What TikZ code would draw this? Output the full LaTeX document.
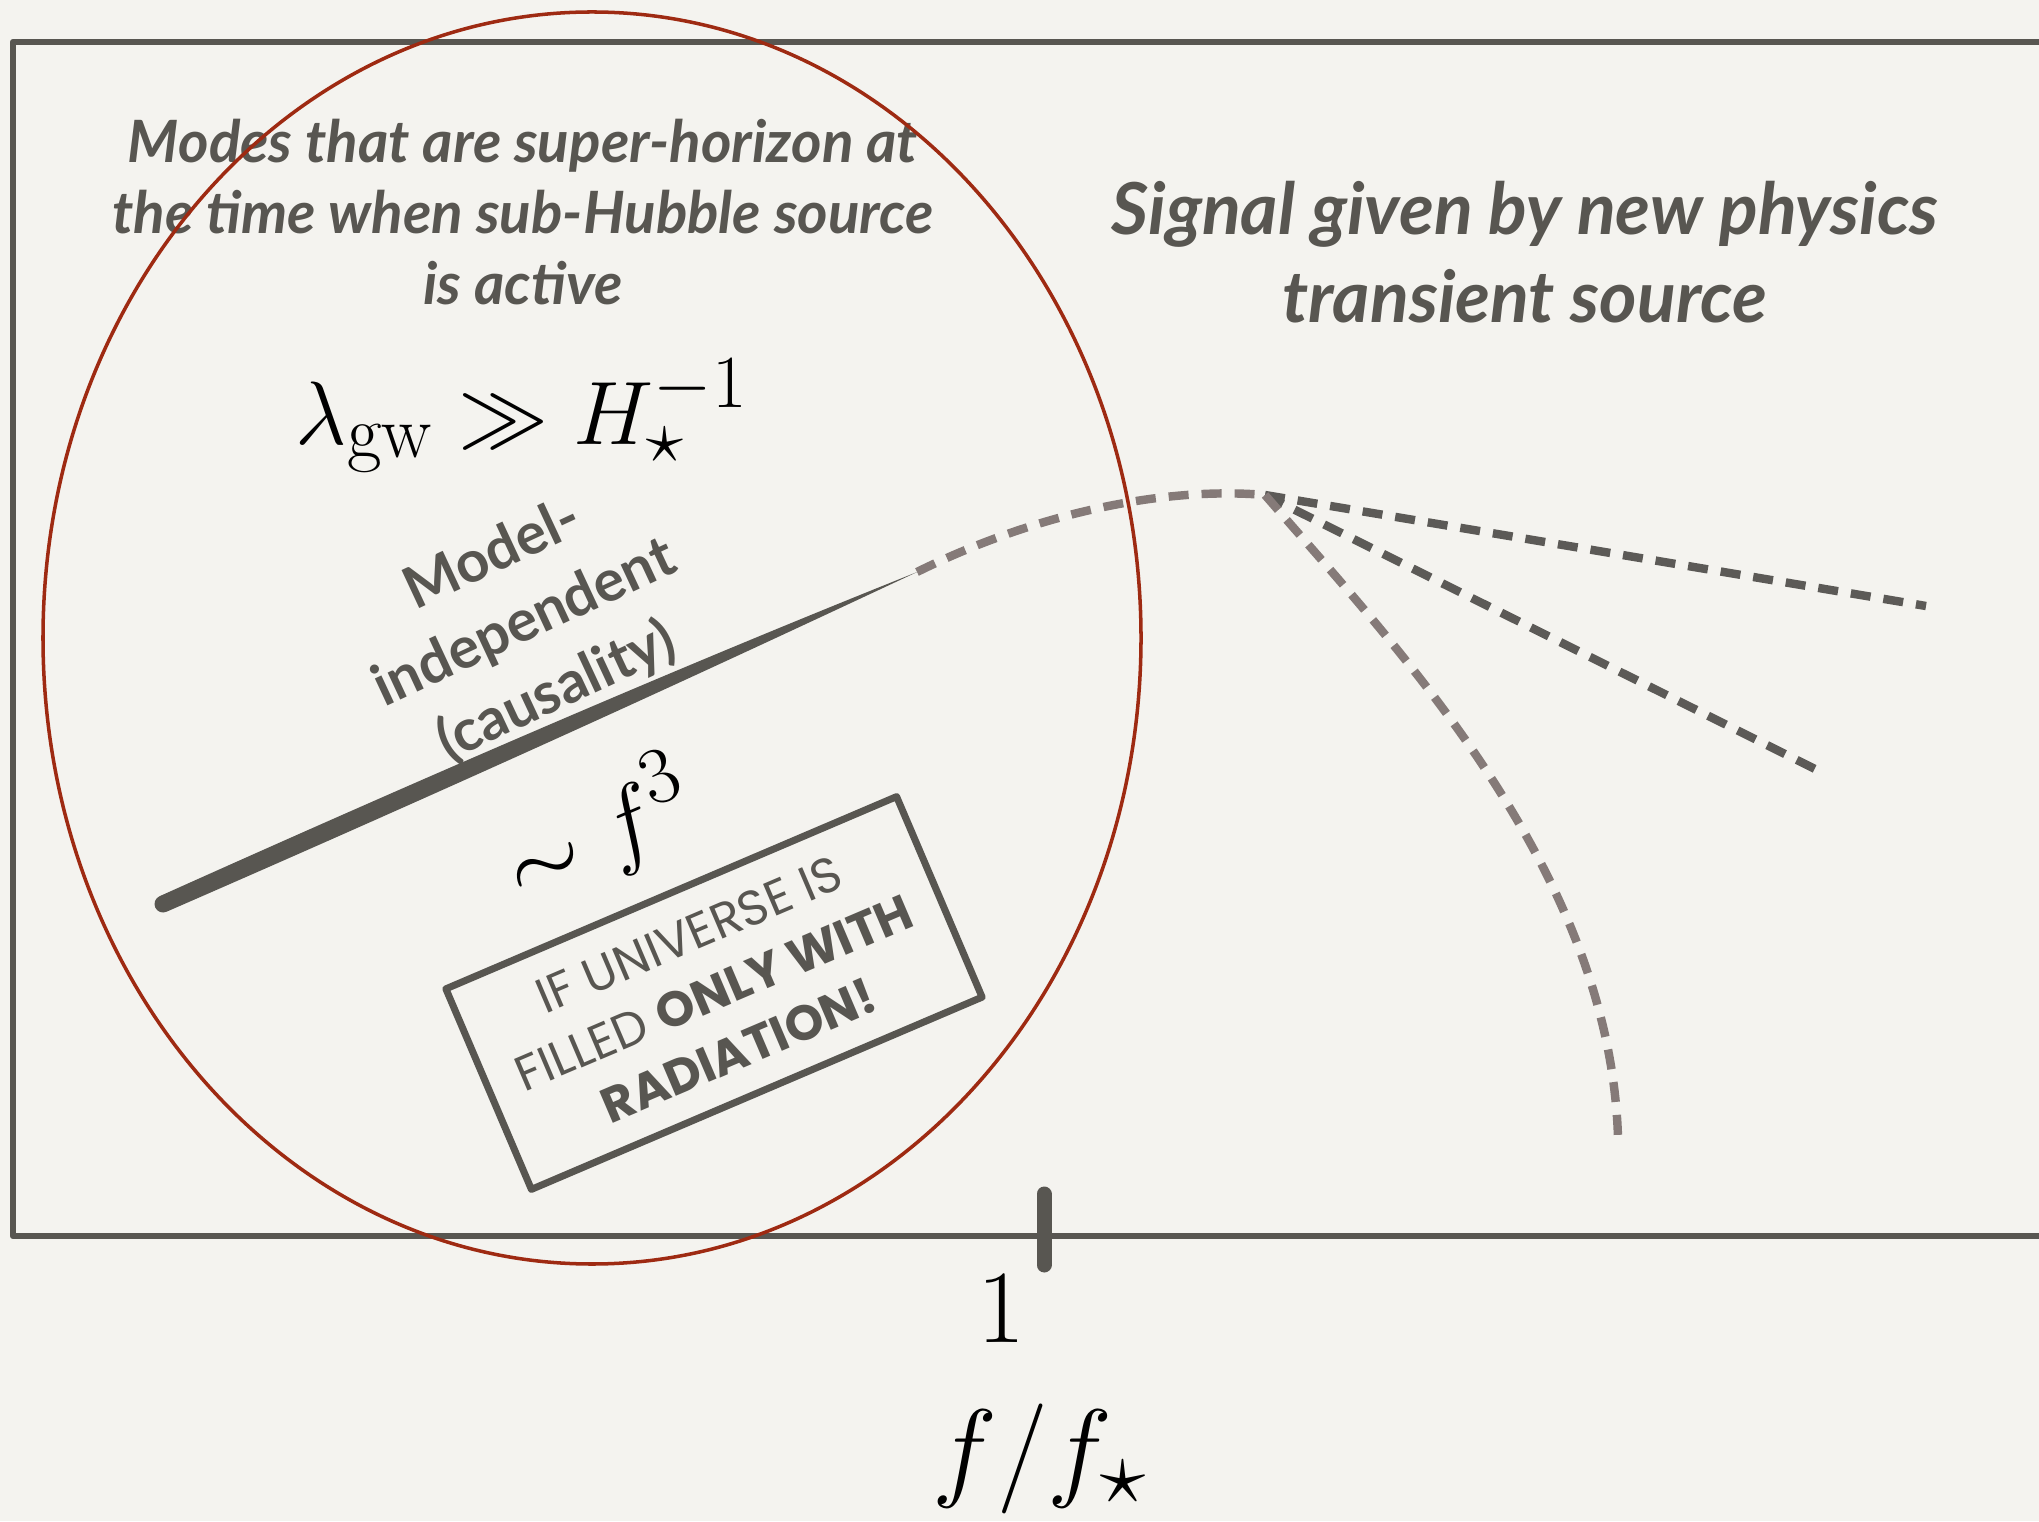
\documentclass[tikz,border=0pt]{standalone}
\usepackage{amsmath,amssymb}
\usepackage{fontspec}
\usepackage{tikz}
\usetikzlibrary{calc}
\newfontfamily\avenirfont{Lato}
\newfontfamily\futurafont{Poppins}
\definecolor{paper}{RGB}{244,243,239}
\definecolor{inkgray}{RGB}{88,86,81}
\definecolor{dashgray}{RGB}{92,90,87}
\definecolor{mauvegray}{RGB}{133,122,120}
\definecolor{horizonred}{RGB}{158,42,18}

\begin{document}
\begin{tikzpicture}[line cap=round,line join=round]
\fill[paper] (0,0) rectangle (20.39,15.21);
\useasboundingbox (0,0) rectangle (20.39,15.21);
\tikzset{slidetext/.style={text=inkgray,align=center},
  bigmath/.style={font=\fontsize{24.88}{30}\selectfont},
  bigdash/.style={line width=2.4pt,dash pattern=on 0.2cm off 0.13cm,line cap=butt}}
% axis frame
\draw[inkgray,line width=0.065cm,line cap=butt] (20.45,14.79) -- (0.13,14.79) -- (0.13,2.85) -- (20.45,2.85);
\draw[inkgray,line width=0.15cm] (10.44,3.27) -- (10.44,2.56);
\node[bigmath,scale=1.19] (one) at (10.01,2.12) {$1$};
\node[bigmath,scale=1.26] (xlabel) at (10.40,0.62) {$f/f_\star$};

% labels
\node[slidetext,font=\avenirfont\bfseries\itshape\fontsize{16.6}{20.3}\selectfont] (modes) at (5.23,13.09)
  {Modes that are super-horizon at\\the time when sub-Hubble source\\is active};
\node[slidetext,font=\avenirfont\bfseries\itshape\fontsize{20.4}{25}\selectfont] (signal) at (15.25,12.69)
  {Signal given by new physics\\transient source};
\node[bigmath,scale=1.03] (horizon) at (5.22,11.05) {$\lambda_{\mathrm{gw}}\gg H_\star^{-1}$};
\node[slidetext,rotate=25,font=\avenirfont\bfseries\fontsize{16.5}{21.5}\selectfont] (causal) at (5.25,8.97)
  {Model-\\independent\\(causality)};
\node[bigmath,rotate=23,scale=1.1] (slope) at (5.98,6.89) {$\sim f^3$};
\node[slidetext,draw=inkgray,line width=0.07cm,rotate=23.1,minimum width=4.9cm,minimum height=2.18cm,
  font=\futurafont\fontsize{14}{18}\selectfont] (radbox) at (7.14,5.28)
  {IF UNIVERSE IS\\FILLED \textbf{ONLY WITH}\\\textbf{RADIATION!}};

% spectrum
\coordinate (slopeL) at (1.63,6.17);
\coordinate (slopeR) at (9.17,9.49);
\coordinate (peak) at (12.65,10.26);
\begin{scope}[shift={(slopeL)},rotate=23.76]
  \fill[inkgray] (0,0.085) .. controls (4,0.115) and (6.5,0.06) .. (8.24,0)
    .. controls (6.5,-0.04) and (4,-0.1) .. (0,-0.085) arc (270:90:0.085);
\end{scope}
\draw[bigdash,mauvegray] (slopeR) .. controls (10.3,10.05) and (11.6,10.35) .. (peak);
\draw[bigdash,dashgray] (peak) -- (19.26,9.15);
\draw[bigdash,dashgray] (peak) -- (18.25,7.47);
\draw[bigdash,mauvegray] (peak) .. controls (14.0,8.7) and (16.1,6.5) .. (16.18,3.83);

% horizon ellipse
\draw[horizonred,line width=1pt] (5.92,8.83) ellipse [x radius=5.49,y radius=6.26];
\end{tikzpicture}
\end{document}
